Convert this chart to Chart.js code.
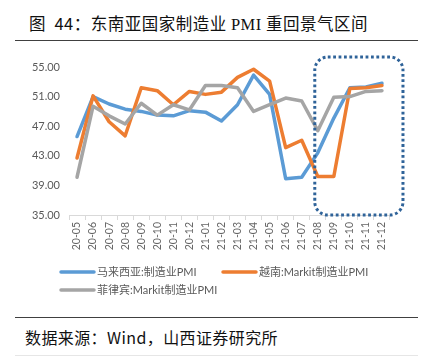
<!DOCTYPE html>
<html>
<head>
<meta charset="utf-8">
<script src="https://cdn.jsdelivr.net/npm/chart.js@4.4.0/dist/chart.umd.min.js"></script>
<style>
  html, body { margin:0; padding:0; background:#fff; }
  body { width:436px; height:357px; position:relative; overflow:hidden; font-family:"Noto Sans CJK SC", sans-serif; }
  #title { position:absolute; left:29px; top:11px; font-size:16.5px; letter-spacing:0.5px; color:#111; white-space:nowrap; line-height:24px; }
  #title .lat { font-family:"Liberation Serif", serif; }
  #rule1 { position:absolute; left:15px; width:403px; top:40px; height:0; border-top:1.5px solid #404040; }
  #rule2 { position:absolute; left:15px; width:403px; top:317px; height:0; border-top:1.5px solid #404040; }
  #rule3 { position:absolute; left:15px; width:403px; top:355px; height:0; border-top:1px solid #e6e6e6; }
  #source { position:absolute; left:25px; top:325px; font-size:16px; letter-spacing:0.4px; color:#111; white-space:nowrap; line-height:24px; }
  #wrap { position:absolute; left:0; top:50px; width:436px; height:255px; }
</style>
</head>
<body>
<div id="title">图&nbsp;&nbsp;44：东南亚国家制造业 <span class="lat">PMI</span> 重回景气区间</div>
<div id="rule1"></div>
<div id="wrap"><canvas id="c"></canvas></div>
<div id="rule2"></div>
<div id="source">数据来源：Wind，山西证券研究所</div>
<div id="rule3"></div>
<script>
const categories = ['20-05','20-06','20-07','20-08','20-09','20-10','20-11','20-12','21-01','21-02','21-03','21-04','21-05','21-06','21-07','21-08','21-09','21-10','21-11','21-12'];
const malaysia = [45.6, 51.0, 50.0, 49.3, 49.0, 48.5, 48.4, 49.1, 48.9, 47.7, 49.9, 53.9, 51.3, 39.9, 40.1, 43.4, 48.1, 52.2, 52.3, 52.8];
const vietnam = [42.7, 51.1, 47.6, 45.7, 52.2, 51.8, 49.9, 51.7, 51.3, 51.6, 53.6, 54.7, 53.1, 44.1, 45.1, 40.2, 40.2, 52.1, 52.2, 52.5];
const philippines = [40.1, 49.7, 48.4, 47.3, 50.1, 48.5, 49.9, 49.2, 52.5, 52.5, 52.2, 49.0, 49.9, 50.8, 50.4, 46.4, 50.9, 51.0, 51.7, 51.8];
const seriesNames = ['马来西亚:制造业PMI', '越南:Markit制造业PMI', '菲律宾:Markit制造业PMI'];
const seriesColors = ['#5B9BD5', '#ED7D31', '#A5A5A5'];
const yTicks = [35, 37, 39, 41, 43, 45, 47, 49, 51, 53, 55];
const highlightStart = '21-08';
const highlightEnd = '21-12';

const FONT = 'Lato, "Noto Sans CJK SC", sans-serif';

const legendPlugin = {
  id: 'customLegend',
  afterDraw(chart) {
    const ctx = chart.ctx;
    const spots = [[60, 222], [222, 222], [60, 240]];
    ctx.save();
    chart.data.datasets.forEach((ds, i) => {
      const [x, y] = spots[i];
      ctx.strokeStyle = ds.borderColor;
      ctx.lineWidth = 3.5;
      ctx.lineCap = 'round';
      ctx.beginPath();
      ctx.moveTo(x + 1, y);
      ctx.lineTo(x + 34, y);
      ctx.stroke();
      ctx.fillStyle = '#595959';
      ctx.font = '11px ' + FONT;
      ctx.textBaseline = 'middle';
      ctx.textAlign = 'left';
      ctx.fillText(ds.label, x + 37, y + 0.5);
    });
    ctx.restore();
  }
};

const highlightPlugin = {
  id: 'highlightBox',
  afterDatasetsDraw(chart) {
    const xs = chart.scales.x, ys = chart.scales.y;
    const i0 = categories.indexOf(highlightStart), i1 = categories.indexOf(highlightEnd);
    const left = xs.getPixelForValue(i0) - 3;
    const right = xs.getPixelForValue(i1) + 21;
    const top = chart.chartArea.top - 10;
    const bottom = ys.getPixelForValue(yTicks[0]);
    const r = 13;
    const ctx = chart.ctx;
    ctx.save();
    ctx.strokeStyle = '#2F6399';
    ctx.lineWidth = 3;
    ctx.setLineDash([2.8, 2.6]);
    ctx.beginPath();
    ctx.moveTo(left + r, top);
    ctx.lineTo(right - r, top);
    ctx.arcTo(right, top, right, top + r, r);
    ctx.lineTo(right, bottom - r);
    ctx.arcTo(right, bottom, right - r, bottom, r);
    ctx.lineTo(left + r, bottom);
    ctx.arcTo(left, bottom, left, bottom - r, r);
    ctx.lineTo(left, top + r);
    ctx.arcTo(left, top, left + r, top, r);
    ctx.closePath();
    ctx.stroke();
    ctx.restore();
  }
};

const data = {
  labels: categories,
  datasets: [malaysia, vietnam, philippines].map((vals, i) => ({
    label: seriesNames[i],
    data: vals,
    borderColor: seriesColors[i],
    backgroundColor: seriesColors[i],
    borderWidth: 3.5,
    pointRadius: 0,
    pointHoverRadius: 0,
    tension: 0,
    borderJoinStyle: 'round',
    borderCapStyle: 'round',
    order: 2 - i
  }))
};

new Chart(document.getElementById('c'), {
  type: 'line',
  data,
  options: {
    responsive: true,
    maintainAspectRatio: false,
    animation: false,
    events: [],
    layout: { padding: { left: 0, right: 46, top: 17, bottom: 50 } },
    plugins: { legend: { display: false }, tooltip: { enabled: false }, title: { display: false } },
    scales: {
      x: {
        offset: true,
        grid: { display: true, drawOnChartArea: false, drawTicks: true, tickLength: 5, offset: true, color: '#D9D9D9', lineWidth: 1 },
        border: { display: true, color: '#D9D9D9', width: 1 },
        ticks: { color: '#666666', font: { family: FONT, size: 10.5 }, minRotation: 90, maxRotation: 90, autoSkip: false, padding: 2 },
        afterFit: s => { s.height = 40; }
      },
      y: {
        min: yTicks[0],
        max: yTicks[yTicks.length - 1],
        afterBuildTicks: s => { s.ticks = yTicks.map(v => ({ value: v })); },
        grid: { display: false, drawTicks: false },
        border: { display: false },
        ticks: { color: '#595959', font: { family: FONT, size: 11 }, padding: 9, callback: v => Number(v).toFixed(2) },
        afterFit: s => { s.width = 69; }
      }
    }
  },
  plugins: [highlightPlugin, legendPlugin]
});
</script>
</body>
</html>
